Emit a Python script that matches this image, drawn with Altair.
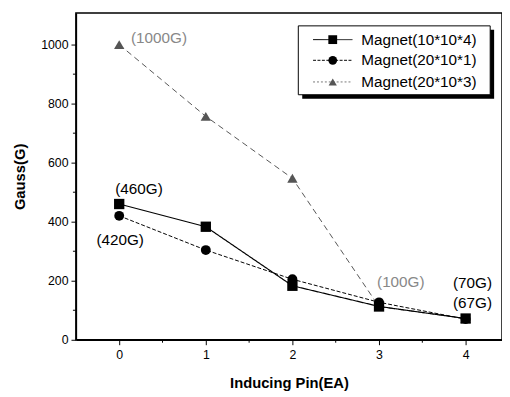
import altair as alt
import pandas as pd

pins = [0, 1, 2, 3, 4]
series_names = ["Magnet(10*10*4)", "Magnet(20*10*1)", "Magnet(20*10*3)"]
s_square = [460, 383, 183, 113, 72]
s_circle = [420, 304, 205, 127, 70]
s_triangle = [1000, 757, 547, 112, 72]

y_ticks = [0, 200, 400, 600, 800, 1000]
y_minor = [100, 300, 500, 700, 900]
x_ticks = [0, 1, 2, 3, 4]
x_minor = [0.5, 1.5, 2.5, 3.5]

label_texts = ["(1000G)", "(460G)", "(420G)", "(100G)", "(70G)", "(67G)"]
label_x = [0, 0, 0, 3, 4, 4]
label_y = [1000, 460, 420, 115, 70, 70]
label_dx = [12, -4, 1, -2, 7, 7]
label_dy = [-7, -15, 25, -24, -37, -16]
label_align = ["left", "left", "center", "left", "center", "center"]
label_color = ["#888888", "#000000", "#000000", "#888888", "#000000", "#000000"]

W, H = 433, 332
FONT = "Liberation Sans"
xs = alt.Scale(domain=[-0.5, 4.42], nice=False, zero=False)
ys = alt.Scale(domain=[0, 1107], nice=False)

colors = ["#000000", "#000000", "#555555"]
dashes = [[1, 0], [4, 2], [6, 4]]
shapes = ["square", "circle", "triangle-up"]
sizes = [110, 100, 110]
stroke_w = [1.2, 1.0, 1.0]
vals = [s_square, s_circle, s_triangle]

layers = []
for i in [2, 1, 0]:
    df = pd.DataFrame({"x": pins, "y": vals[i]})
    base = alt.Chart(df)
    line = base.mark_line(color=colors[i], strokeDash=dashes[i], strokeWidth=stroke_w[i]).encode(
        x=alt.X("x:Q", scale=xs, axis=alt.Axis(values=x_ticks, title="Inducing Pin(EA)", format="d")),
        y=alt.Y("y:Q", scale=ys, axis=alt.Axis(values=y_ticks, title="Gauss(G)", format="d")),
    )
    pts = base.mark_point(shape=shapes[i], filled=True, color=colors[i], size=sizes[i], opacity=1).encode(
        x="x:Q", y="y:Q"
    )
    layers += [line, pts]

# minor ticks
ymin_df = pd.DataFrame({"y": y_minor})
ymin = alt.Chart(ymin_df).mark_rule(color="black", strokeWidth=1).encode(
    y=alt.Y("y:Q", scale=ys), x=alt.value(-3), x2=alt.value(0)
)
xmin_df = pd.DataFrame({"x": x_minor})
xmin = alt.Chart(xmin_df).mark_rule(color="black", strokeWidth=1).encode(
    x=alt.X("x:Q", scale=xs), y=alt.value(H), y2=alt.value(H + 3)
)
layers += [ymin, xmin]

# data labels
for i, t in enumerate(label_texts):
    ldf = pd.DataFrame({"x": [label_x[i]], "y": [label_y[i]], "t": [t]})
    layers.append(
        alt.Chart(ldf).mark_text(
            font=FONT, fontSize=15.5, color=label_color[i], align=label_align[i],
            baseline="middle", dx=label_dx[i], dy=label_dy[i]
        ).encode(x=alt.X("x:Q", scale=xs), y=alt.Y("y:Q", scale=ys), text="t:N")
    )

# legend box
box_shadow = alt.Chart(pd.DataFrame({"a": [0]})).mark_rect(color="black").encode(
    x=alt.value(230), x2=alt.value(425), y=alt.value(17), y2=alt.value(87)
)
box = alt.Chart(pd.DataFrame({"a": [0]})).mark_rect(fill="white", stroke="black", strokeWidth=1).encode(
    x=alt.value(226), x2=alt.value(421), y=alt.value(13), y2=alt.value(83)
)
layers += [box_shadow, box]
leg_y = [27, 48, 70]
leg_dash = [[1, 0], [3, 1.5], [2, 2]]
leg_col = ["#000000", "#000000", "#777777"]
leg_sizes = [80, 80, 70]
for i, name in enumerate(series_names):
    d = pd.DataFrame({"a": [0], "t": [name]})
    layers.append(alt.Chart(d).mark_rule(color=leg_col[i], strokeDash=leg_dash[i], strokeWidth=1).encode(
        x=alt.value(241), x2=alt.value(281), y=alt.value(leg_y[i])))
    layers.append(alt.Chart(d).mark_point(shape=shapes[i], filled=True, color=colors[i], size=leg_sizes[i], opacity=1).encode(
        x=alt.value(261), y=alt.value(leg_y[i])))
    layers.append(alt.Chart(d).mark_text(font=FONT, fontSize=15.5, align="left", baseline="middle", color="black").encode(
        x=alt.value(290), y=alt.value(leg_y[i]), text="t:N"))

chart = alt.layer(*layers).properties(
    width=W, height=H,
    autosize=alt.AutoSizeParams(type="none"),
    padding={"left": 69, "top": 2, "right": 0, "bottom": 55},
).configure_view(stroke="black", strokeWidth=1.5).configure_axis(
    grid=False, domainColor="black", domainWidth=1.5, tickColor="black", tickSize=5, tickWidth=1,
    labelFont=FONT, labelFontSize=12.5, labelColor="black", titleFont=FONT, titleFontSize=15,
    titleFontWeight="bold", titleColor="black"
).configure_axisX(labelPadding=4, titlePadding=15).configure_axisY(labelPadding=3, titlePadding=13)

chart.save("out.html", embed_options={"renderer": "svg", "actions": False})
